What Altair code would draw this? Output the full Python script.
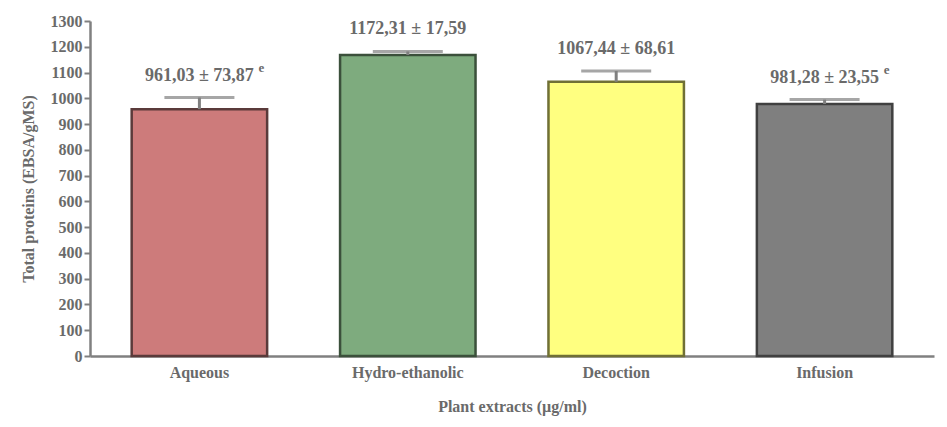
import altair as alt
import pandas as pd

extracts = ["Aqueous", "Hydro-ethanolic", "Decoction", "Infusion"]
means = [958, 1168, 1064, 978]
error_tops = [1003, 1182, 1106, 995]
labels = ["961,03 ± 73,87", "1172,31 ± 17,59", "1067,44 ± 68,61", "981,28 ± 23,55"]
sups = ["e", "", "", "e"]
fills = ["#cd7b7b", "#7eab7e", "#ffff80", "#7f7f7f"]
strokes = ["#5a3a3a", "#3b503b", "#707035", "#404040"]

df = pd.DataFrame({
    "extract": extracts, "mean": means, "top": error_tops,
    "label": labels, "sup": sups,
})

font = "Liberation Serif, Times New Roman, DejaVu Serif, serif"
x = alt.X("extract:N", sort=extracts, title="Plant extracts (µg/ml)",
          scale=alt.Scale(paddingInner=0.35, paddingOuter=0.2))
y_scale = alt.Scale(domain=[0, 1300])
y_axis = alt.Axis(values=list(range(0, 1301, 100)), format="d",
                  labelOverlap=False, grid=False, titlePadding=14)


def y(field):
    return alt.Y(field, title="Total proteins (EBSA/gMS)", scale=y_scale, axis=y_axis)


base = alt.Chart(df).encode(x=x)

bars = base.mark_bar(strokeWidth=2.5).encode(
    y=y("mean:Q"),
    fill=alt.Color("extract:N", scale=alt.Scale(domain=extracts, range=fills), legend=None),
    stroke=alt.Stroke("extract:N", scale=alt.Scale(domain=extracts, range=strokes), legend=None),
)

err = base.mark_rule(color="#808080", strokeWidth=3).encode(y=y("mean:Q"), y2="top:Q")
cap = base.mark_tick(color="#808080", thickness=3, size=70).encode(y=y("top:Q"))

text = base.mark_text(font=font, fontWeight="bold", fontSize=18, color="#6a6a6a", dy=-22).encode(
    y=y("top:Q"), text="label:N")
sup = base.mark_text(font=font, fontWeight="bold", fontSize=13, color="#6a6a6a",
                     dx=62, dy=-30).encode(y=y("top:Q"), text="sup:N")

chart = (
    alt.layer(bars, err, cap, text, sup)
    .properties(width=931, height=411, padding={"left": 12, "top": 5, "right": 5, "bottom": 5},
                autosize=alt.AutoSizeParams(type="fit", contains="padding"))
    .configure_view(stroke=None)
    .configure_axis(labelFont=font, titleFont=font, labelFontWeight="bold",
                    titleFontWeight="bold", labelFontSize=16, titleFontSize=16,
                    labelColor="#6a6a6a", titleColor="#6a6a6a",
                    domainColor="#808080", tickColor="#808080", domainWidth=2.5,
                    tickWidth=2, tickSize=6)
    .configure_axisX(labelAngle=0, ticks=False, titlePadding=18, labelPadding=8)
)

chart.save("out.html", embed_options={"renderer": "svg", "actions": False})
